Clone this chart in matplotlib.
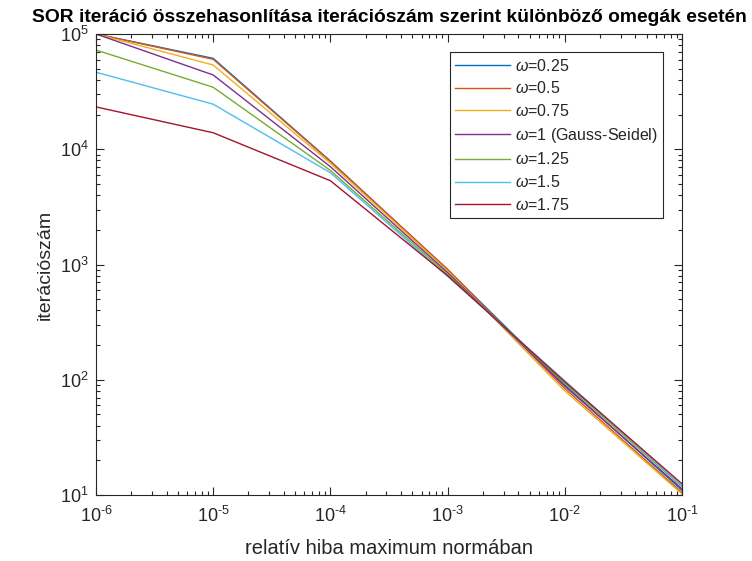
import matplotlib
matplotlib.use("Agg")
import matplotlib.pyplot as plt
import numpy as np
from matplotlib.ticker import LogLocator, FuncFormatter, NullFormatter

plt.rcParams['font.family'] = ['Liberation Sans', 'DejaVu Sans']
plt.rcParams['mathtext.fontset'] = 'custom'
plt.rcParams['mathtext.rm'] = 'Liberation Sans'
plt.rcParams['mathtext.it'] = 'Liberation Sans:italic'
plt.rcParams['mathtext.bf'] = 'Liberation Sans:bold'
plt.rcParams['axes.unicode_minus'] = False

# relative error tolerances (max norm)
tolerances = [1e-6, 1e-5, 1e-4, 1e-3, 1e-2, 1e-1]

omega_labels = [r'$\omega$=0.25', r'$\omega$=0.5', r'$\omega$=0.75',
                r'$\omega$=1 (Gauss-Seidel)', r'$\omega$=1.25', r'$\omega$=1.5',
                r'$\omega$=1.75']

# iteration counts for each relaxation parameter
iters_025 = [100000, 61500, 7900, 900, 90, 11.0]
iters_050 = [100000, 60300, 7830, 910, 84, 10.5]
iters_075 = [100000, 53800, 7550, 880, 80, 10.2]
iters_100 = [100000, 44100, 7060, 850, 88, 11.3]
iters_125 = [72600, 34500, 6550, 820, 93, 11.8]
iters_150 = [46600, 24600, 6260, 790, 98, 12.0]
iters_175 = [23300, 13900, 5330, 800, 96, 12.5]

series = [iters_025, iters_050, iters_075, iters_100, iters_125, iters_150, iters_175]
colors = ['#0072BD', '#D95319', '#EDB120', '#7E2F8E', '#77AC30', '#4DBEEE', '#A2142F']


def pow10_label(v, pos):
    e = int(round(np.log10(v)))
    exp = str(e).replace('-', '\u2010')
    return r'$\mathregular{10^{%s}}$' % exp


fig = plt.figure(figsize=(7.52, 5.61), dpi=100)
ax = fig.add_axes([96/752, 1-495/561, (682-96)/752, (495-34)/561])

for vals, c, lab in zip(series, colors, omega_labels):
    ax.loglog(tolerances, vals, color=c, linewidth=1.0, label=lab)

ax.set_xlim(1e-6, 1e-1)
ax.set_ylim(1e1, 1e5)

axis_col = '#262626'
for sp in ax.spines.values():
    sp.set_color(axis_col)
    sp.set_linewidth(0.8)

ax.xaxis.set_major_locator(LogLocator(base=10, numticks=20))
ax.yaxis.set_major_locator(LogLocator(base=10, numticks=20))
ax.xaxis.set_minor_locator(LogLocator(base=10, subs=range(2, 10), numticks=20))
ax.yaxis.set_minor_locator(LogLocator(base=10, subs=range(2, 10), numticks=20))
ax.xaxis.set_major_formatter(FuncFormatter(pow10_label))
ax.yaxis.set_major_formatter(FuncFormatter(pow10_label))
ax.xaxis.set_minor_formatter(NullFormatter())
ax.yaxis.set_minor_formatter(NullFormatter())

ax.tick_params(which='both', direction='in', top=True, right=True,
               color=axis_col, labelcolor=axis_col, width=0.8)
ax.tick_params(which='major', length=6, labelsize=13, pad=5)
ax.tick_params(axis='x', which='major', pad=8)
ax.tick_params(which='minor', length=3)

ax.set_xlabel('relatív hiba maximum normában', fontsize=14.5, color=axis_col, labelpad=9)
ax.set_ylabel('iterációszám', fontsize=14, color=axis_col, labelpad=5)
ax.set_title('SOR iteráció összehasonlítása iterációszám szerint különböző omegák esetén',
             fontsize=13.9, fontweight='bold', color='black', pad=9)

leg = ax.legend(loc='upper right', bbox_to_anchor=(1 - 19/586, 1 - 18/461),
                borderaxespad=0, fontsize=11.5, frameon=True, fancybox=False,
                handlelength=3.4, handletextpad=0.3, labelspacing=0.42,
                borderpad=0.35, framealpha=1)
leg.get_frame().set_edgecolor(axis_col)
leg.get_frame().set_linewidth(0.8)
for t in leg.get_texts():
    t.set_color(axis_col)

fig.savefig('out.png', dpi=100)
